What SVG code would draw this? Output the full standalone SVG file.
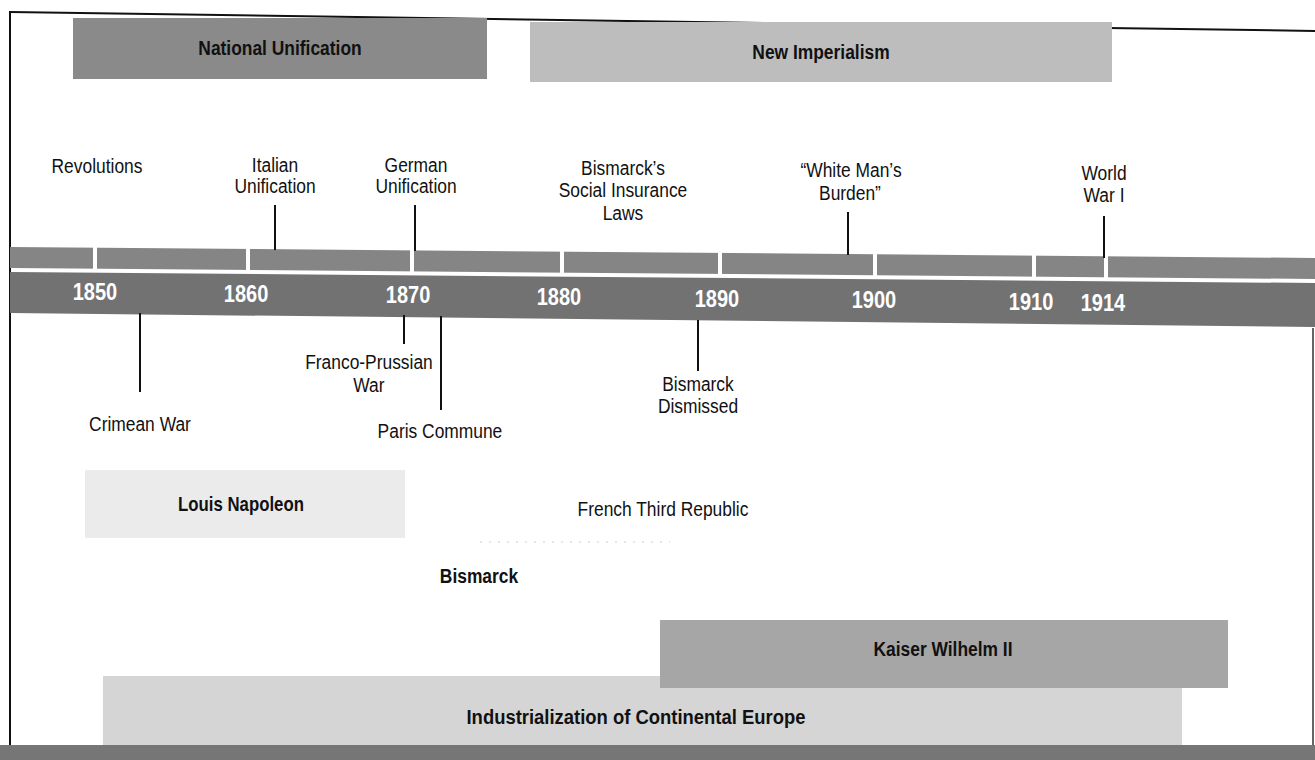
<svg xmlns="http://www.w3.org/2000/svg" width="1315" height="760" viewBox="0 0 1315 760">
<style>
text{font-family:"Liberation Sans",Arial,sans-serif;font-size:20px;fill:#111;text-anchor:middle}
.b{font-weight:bold}
.yr{font-weight:bold;fill:#fff;font-size:23px}
.tick{stroke:#111;stroke-width:2;fill:none}
.gap{stroke:#fff;stroke-width:4}
</style>
<rect x="0" y="0" width="1315" height="760" fill="#fff"/>
<g id="frame">
<line x1="10" y1="12" x2="1315" y2="31" stroke="#111" stroke-width="2"/>
<line x1="10" y1="11" x2="10" y2="748" stroke="#111" stroke-width="2"/>
<line x1="1313" y1="328" x2="1313" y2="745" stroke="#333" stroke-width="1.5"/>
<rect x="0" y="745" width="1315" height="15" fill="#767676"/>
</g>
<g id="national-unification">
<rect x="73" y="18" width="414" height="61" fill="#8a8a8a"/>
<text class="b" x="280" y="55" transform="translate(280 0) scale(0.87 1) translate(-280 0)">National Unification</text>
</g>
<g id="new-imperialism">
<rect x="530" y="22" width="582" height="60" fill="#bdbdbd"/>
<text class="b" x="821" y="59" transform="translate(821 0) scale(0.87 1) translate(-821 0)">New Imperialism</text>
</g>
<g id="timeline">
<polygon points="10,247 1315,258 1315,279 10,268" fill="#858585"/>
<polygon points="10,272 1315,283 1315,327 10,313" fill="#727272"/>
<g class="gap">
<line x1="95" y1="246" x2="95" y2="271"/>
<line x1="248" y1="247" x2="248" y2="272"/>
<line x1="412" y1="248" x2="412" y2="274"/>
<line x1="562" y1="250" x2="562" y2="275"/>
<line x1="720" y1="251" x2="720" y2="276"/>
<line x1="875" y1="252" x2="875" y2="278"/>
<line x1="1034" y1="254" x2="1034" y2="279"/>
<line x1="1106" y1="254" x2="1106" y2="280"/>
</g>
<g transform="scale(0.87 1)">
<text class="yr" x="109.2" y="300">1850</text>
<text class="yr" x="282.8" y="301.6">1860</text>
<text class="yr" x="469" y="303.4">1870</text>
<text class="yr" x="642.5" y="305">1880</text>
<text class="yr" x="824.1" y="306.8">1890</text>
<text class="yr" x="1004.6" y="308.5">1900</text>
<text class="yr" x="1185.1" y="310.2">1910</text>
<text class="yr" x="1267.8" y="311">1914</text>
</g>
</g>
<g id="connectors">
<line class="tick" x1="275" y1="205" x2="275" y2="250"/>
<line class="tick" x1="415" y1="205" x2="415" y2="251"/>
<line class="tick" x1="848" y1="212" x2="848" y2="255"/>
<line class="tick" x1="1104" y1="216" x2="1104" y2="258"/>
<line class="tick" x1="140" y1="313" x2="140" y2="392"/>
<line class="tick" x1="404" y1="315" x2="404" y2="344"/>
<line class="tick" x1="441" y1="316" x2="441" y2="410"/>
<line class="tick" x1="698" y1="320" x2="698" y2="371"/>
</g>
<g transform="scale(0.87 1)">
<g id="revolutions"><text x="111.5" y="173">Revolutions</text></g>
<g id="italian-unification"><text x="316.1" y="172">Italian</text><text x="316.1" y="193">Unification</text></g>
<g id="german-unification"><text x="478.2" y="172">German</text><text x="478.2" y="193">Unification</text></g>
<g id="social-insurance"><text x="716.1" y="175">Bismarck’s</text><text x="716.1" y="197">Social Insurance</text><text x="716.1" y="220">Laws</text></g>
<g id="white-mans-burden"><text x="978.2" y="177">“White Man’s</text><text x="977" y="200">Burden”</text></g>
<g id="world-war-i"><text x="1269" y="180">World</text><text x="1269" y="202">War I</text></g>
<g id="crimean-war"><text x="160.9" y="431">Crimean War</text></g>
<g id="franco-prussian-war"><text x="424.1" y="369">Franco-Prussian</text><text x="424.1" y="392">War</text></g>
<g id="paris-commune"><text x="505.7" y="438">Paris Commune</text></g>
<g id="bismarck-dismissed"><text x="802.3" y="391">Bismarck</text><text x="802.3" y="413">Dismissed</text></g>
</g>
<g id="louis-napoleon">
<rect x="85" y="470" width="320" height="68" fill="#ebebeb"/>
<text class="b" x="241" y="511" transform="translate(241 0) scale(0.84 1) translate(-241 0)">Louis Napoleon</text>
</g>
<g id="french-third-republic">
<line x1="480" y1="542" x2="670" y2="542" stroke="#d0d0d0" stroke-width="1" stroke-dasharray="2 7"/>
<text x="663" y="516" transform="translate(663 0) scale(0.87 1) translate(-663 0)">French Third Republic</text>
</g>
<g id="bismarck"><text class="b" x="479" y="583" transform="translate(479 0) scale(0.87 1) translate(-479 0)">Bismarck</text></g>
<g id="industrialization">
<rect x="103" y="676" width="1079" height="69" fill="#d5d5d5"/>
<text class="b" x="636" y="724" textLength="339" lengthAdjust="spacingAndGlyphs">Industrialization of Continental Europe</text>
</g>
<g id="kaiser-wilhelm-ii">
<rect x="660" y="620" width="568" height="68" fill="#a6a6a6"/>
<text class="b" x="943" y="656" transform="translate(943 0) scale(0.87 1) translate(-943 0)">Kaiser Wilhelm II</text>
</g>
</svg>
